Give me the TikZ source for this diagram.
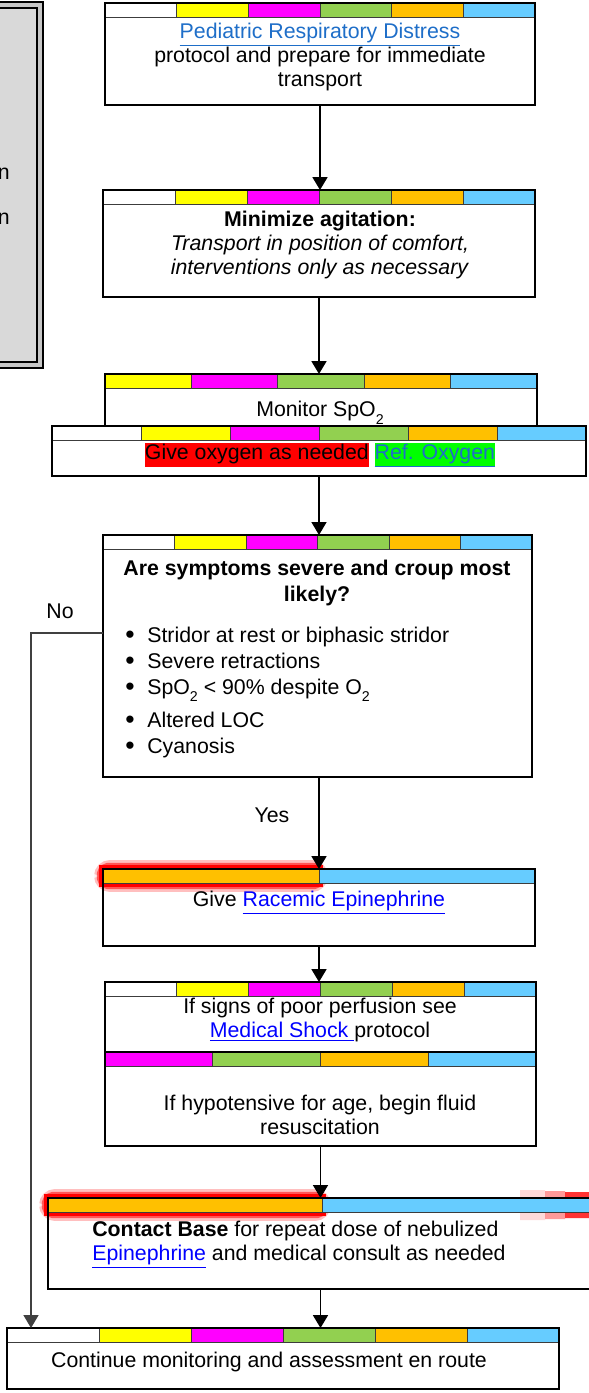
\documentclass[tikz,border=0pt]{standalone}
\usepackage{fontspec}
\setmainfont{Liberation Sans}
\usetikzlibrary{arrows.meta, positioning, calc}

\definecolor{segyellow}{RGB}{255, 255, 0}
\definecolor{segmagenta}{RGB}{255, 0, 255}
\definecolor{seggreen}{RGB}{146, 208, 80}
\definecolor{segorange}{RGB}{255, 192, 0}
\definecolor{segblue}{RGB}{102, 204, 255}
\definecolor{bargray}{RGB}{60, 60, 60}
\definecolor{sidegray}{RGB}{217, 217, 217}
\definecolor{linkblue}{RGB}{30, 110, 200}
\definecolor{purelink}{RGB}{0, 0, 255}
\definecolor{hlred}{RGB}{255, 0, 0}
\definecolor{hlgreen}{RGB}{0, 255, 0}

\newcommand{\pxu}{0.5634pt}
% colour strip on top of a box: left, right, top, number of segments, colours
\newcommand{\colorbar}[5]{%
  \foreach \segcol [count=\i from 0] in {#5}
    \filldraw[fill=\segcol, draw=bargray, line width=0.4pt]
      ({#1+\i*(#2-#1)/#4}, #3) rectangle ({#1+(\i+1)*(#2-#1)/#4}, #3+14);
}
\newcommand{\symitem}[1]{\makebox[12.4pt][l]{\raisebox{-0.6pt}{\fontsize{15}{15}\selectfont\textbullet}}#1}
\newcommand{\subtwo}{\raisebox{-4pt}{\fontsize{8}{8}\selectfont 2}}

\tikzset{
  flowbox/.style={draw, line width=0.9pt, inner sep=0pt, outer sep=0pt},
  boxtext/.style={font=\fontsize{12}{13.5}\selectfont, align=center, inner sep=0pt},
  flowarrow/.style={-{Triangle[width=8.5pt, length=7.3pt]}, line width=0.85pt},
  glowa/.style={draw=hlred, opacity=0.25, line width=10pt, rounded corners=4pt},
  glowb/.style={draw=hlred, opacity=0.55, line width=7pt, rounded corners=3pt},
  glowc/.style={draw=hlred, line width=4.4pt},
  glowstrip/.style={fill=hlred, draw=none},
}

\begin{document}
\begin{tikzpicture}[x=0.5634pt, y=-0.5634pt]
  \useasboundingbox (0,0) rectangle (589,1393);
  \clip (0,0) rectangle (589,1393);

  % Side panel, cut off at the left edge
  \filldraw[fill=gray!45, line width=1.1pt] (-60,2) rectangle (43,368);
  \filldraw[fill=sidegray, line width=1.1pt] (-60,8) rectangle (37,362);
  \node[boxtext, anchor=base east] (sidea) at (10,180) {n};
  \node[boxtext, anchor=base east] (sideb) at (10,225) {n};

  % Pediatric respiratory distress
  \colorbar{105}{535}{3}{6}{white,segyellow,segmagenta,seggreen,segorange,segblue}
  \node[flowbox, minimum width=430*\pxu, minimum height=102*\pxu] (pedresp) at (320,54) {};
  \node[boxtext] (pedresptxt) at (320,57) {\textcolor{linkblue}{\underline{Pediatric Respiratory Distress}}\\protocol and prepare for immediate\\transport};

  % Minimize agitation
  \colorbar{103}{535}{190}{6}{white,segyellow,segmagenta,seggreen,segorange,segblue}
  \node[flowbox, minimum width=432*\pxu, minimum height=107*\pxu] (minagit) at (319,243.5) {};
  \node[boxtext] (minagittxt) at (320,245) {\textbf{Minimize agitation:}\\\textit{Transport in position of comfort,}\\\textit{interventions only as necessary}};

  % Monitor SpO2
  \colorbar{105}{537}{374}{5}{segyellow,segmagenta,seggreen,segorange,segblue}
  \node[flowbox, minimum width=432*\pxu, minimum height=52*\pxu] (monspo) at (321,400) {};
  \node[boxtext, anchor=base] (monspotxt) at (320,417) {Monitor SpO\subtwo};

  % Oxygen
  \colorbar{52}{586}{426}{6}{white,segyellow,segmagenta,seggreen,segorange,segblue}
  \node[flowbox, minimum width=534*\pxu, minimum height=50*\pxu] (giveox) at (319,451) {};
  \node[boxtext] (giveoxtxt) at (320,455) {\setlength{\fboxsep}{0pt}\colorbox{hlred}{\rule[-4.3pt]{0pt}{13.8pt}Give oxygen as needed} \colorbox{hlgreen}{\rule[-4.3pt]{0pt}{13.8pt}\textcolor{linkblue}{\underline{Ref. Oxygen}}}};

  % Severe croup question
  \colorbar{103}{532}{535}{6}{white,segyellow,segmagenta,seggreen,segorange,segblue}
  \node[flowbox, line width=0.7pt, minimum width=429*\pxu, minimum height=242*\pxu] (severe) at (317.5,656) {};
  \node[boxtext, font=\fontsize{12}{14.5}\selectfont\bfseries] (severetitle) at (317,583) {Are symptoms severe and croup most\\likely?};
  \node[boxtext, anchor=base west] (sym1) at (125,642) {\symitem{Stridor at rest or biphasic stridor}};
  \node[boxtext, anchor=base west] (sym2) at (125,668) {\symitem{Severe retractions}};
  \node[boxtext, anchor=base west] (sym3) at (125,694) {\symitem{SpO\subtwo{} < 90\% despite O\subtwo}};
  \node[boxtext, anchor=base west] (sym4) at (125,727) {\symitem{Altered LOC}};
  \node[boxtext, anchor=base west] (sym5) at (125,753) {\symitem{Cyanosis}};

  % Racemic epinephrine
  \draw[glowa] (103,869) rectangle (319,883);
  \draw[glowb] (103,869) rectangle (319,883);
  \draw[glowc] (103,869) rectangle (319,883);
  \colorbar{103}{535}{869}{2}{segorange,segblue}
  \node[flowbox, minimum width=432*\pxu, minimum height=77*\pxu] (racemic) at (319,907.5) {};
  \node[boxtext] (racemictxt) at (319,903) {Give \textcolor{purelink}{\underline{Racemic Epinephrine}}};

  % Shock and fluids
  \colorbar{105}{536}{982}{6}{white,segyellow,segmagenta,seggreen,segorange,segblue}
  \node[flowbox, minimum width=431*\pxu, minimum height=70*\pxu] (shock) at (320.5,1017) {};
  \node[boxtext] (shocktxt) at (320,1020) {If signs of poor perfusion see\\\textcolor{purelink}{\underline{Medical Shock }}protocol};
  \colorbar{105}{536}{1052}{4}{segmagenta,seggreen,segorange,segblue}
  \node[flowbox, minimum width=431*\pxu, minimum height=94*\pxu] (hypot) at (320.5,1099) {};
  \node[boxtext] (hypottxt) at (320,1115) {If hypotensive for age, begin fluid\\resuscitation};

  % Contact base
  \draw[glowa] (48,1198) rectangle (322,1212);
  \draw[glowb] (48,1198) rectangle (322,1212);
  \draw[glowc] (48,1198) rectangle (322,1212);
  \colorbar{48}{596}{1198}{2}{segorange,segblue}
  \fill[glowstrip, opacity=0.15] (520,1190) rectangle (545,1197) (520,1213) rectangle (545,1220);
  \fill[glowstrip, opacity=0.4] (545,1191) rectangle (565,1197) (545,1213) rectangle (565,1219);
  \fill[glowstrip, opacity=0.8] (565,1192) rectangle (600,1197) (565,1213) rectangle (600,1218);
  \node[flowbox, minimum width=572*\pxu, minimum height=91*\pxu] (contact) at (334,1243.5) {};
  \node[boxtext, align=left, anchor=west] (contacttxt) at (92,1245) {\textbf{Contact Base} for repeat dose of nebulized\\\textcolor{purelink}{\underline{Epinephrine}} and medical consult as needed};

  % Continue monitoring
  \colorbar{7}{559}{1328}{6}{white,segyellow,segmagenta,seggreen,segorange,segblue}
  \node[flowbox, minimum width=552*\pxu, minimum height=61*\pxu] (contin) at (283,1358.5) {};
  \node[boxtext] (contintxt) at (269,1362) {Continue monitoring and assessment en route};

  % Connectors
  \draw[flowarrow] (pedresp.south) -- (pedresp.south |- minagit.north);
  \draw[flowarrow] (minagit.south) -- (minagit.south |- monspo.north);
  \draw[flowarrow, line width=0.6pt] (giveox.south) -- (giveox.south |- severe.north);
  \draw[flowarrow] (severe.south -| racemic.north) -- (racemic.north);
  \node[boxtext] (yeslbl) at (272,815) {Yes};
  \draw[flowarrow] (racemic.south) -- (racemic.south |- shock.north);
  \draw[flowarrow, line width=0.6pt] (hypot.south) -- (hypot.south |- contact.north);
  \draw[flowarrow] (contact.south -| hypot.south) -- (contin.north -| hypot.south);

  % No branch
  \coordinate (nofork) at (31,633);
  \node[boxtext] (nolbl) at (60,611) {No};
  \draw[flowarrow, line width=0.6pt, draw=black!75] (severe.west |- nofork) -- (nofork) -- (nofork |- contin.north);
\end{tikzpicture}
\end{document}
